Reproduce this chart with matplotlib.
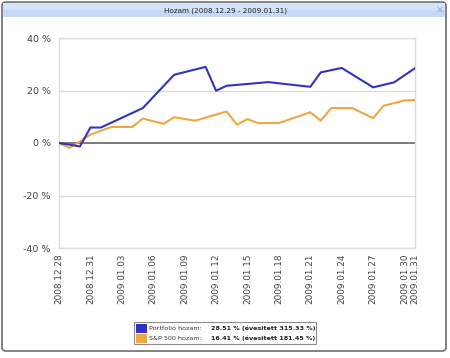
import datetime as dt
import matplotlib
matplotlib.use("Agg")
import matplotlib.pyplot as plt
from matplotlib.patches import Rectangle, FancyBboxPatch

# portfolio return (%) by date
port_dates = ["2008.12.28", "2008.12.30", "2008.12.31", "2009.01.01", "2009.01.05",
              "2009.01.08", "2009.01.11", "2009.01.12", "2009.01.13", "2009.01.17",
              "2009.01.21", "2009.01.22", "2009.01.24", "2009.01.27", "2009.01.29",
              "2009.01.31"]
port_vals = [0, -1.3, 5.9, 5.9, 13.3, 26.0, 29.0, 19.9, 21.8, 23.2,
             21.4, 26.9, 28.6, 21.2, 23.1, 28.51]

# S&P 500 return (%) by date
sp_dates = ["2008.12.28", "2008.12.29", "2008.12.30", "2008.12.31", "2009.01.02",
            "2009.01.04", "2009.01.05", "2009.01.07", "2009.01.08", "2009.01.10",
            "2009.01.13", "2009.01.14", "2009.01.15", "2009.01.16", "2009.01.18",
            "2009.01.21", "2009.01.22", "2009.01.23", "2009.01.25", "2009.01.27",
            "2009.01.28", "2009.01.30", "2009.01.31"]
sp_vals = [0, -1.9, 0.6, 3.2, 6.1, 6.1, 9.3, 7.3, 9.8, 8.5,
           12.0, 7.0, 9.1, 7.6, 7.6, 11.7, 8.5, 13.3, 13.3, 9.5,
           14.2, 16.2, 16.41]

tick_dates = ["2008.12.28", "2008.12.31", "2009.01.03", "2009.01.06", "2009.01.09",
              "2009.01.12", "2009.01.15", "2009.01.18", "2009.01.21", "2009.01.24",
              "2009.01.27", "2009.01.30", "2009.01.31"]
y_ticks = [40, 20, 0, -20, -40]

title = "Hozam (2008.12.29 - 2009.01.31)"
legend_names = ["Portfolió hozam:", "S&P 500 hozam:"]
legend_vals = ["28.51 % (évesitett 315.33 %)", "16.41 % (évesitett 181.45 %)"]

BLUE = "#3232c4"
ORANGE = "#eca843"

t0 = dt.datetime.strptime(tick_dates[0], "%Y.%m.%d")


def days(ds):
    return [(dt.datetime.strptime(d, "%Y.%m.%d") - t0).days for d in ds]


W, H = 450, 358


def fx(x):
    return x / W


def fy(y):
    return 1 - y / H


fig = plt.figure(figsize=(4.5, 3.58), dpi=100)
fig.patch.set_facecolor("white")

# window frame
fig.patches.append(FancyBboxPatch((fx(2), fy(351)), fx(446) - fx(2), fy(2) - fy(351),
                                  boxstyle="round,pad=0,rounding_size=0.01",
                                  transform=fig.transFigure, fc="white",
                                  ec="#6e6e6e", lw=1.2, zorder=-2))
fig.patches.append(Rectangle((fx(3), fy(17)), fx(445) - fx(3), fy(3) - fy(17),
                             transform=fig.transFigure, fc="#c6daf6", ec="none", zorder=-1))
fig.patches.append(Rectangle((fx(3), fy(10)), fx(445) - fx(3), fy(3) - fy(10),
                             transform=fig.transFigure, fc="#d3e3f9", ec="none", zorder=-1))
fig.text(fx(225), fy(10.5), title, ha="center", va="center", fontsize=5.2, color="#222222")
fig.text(fx(440), fy(10.5), "×", ha="center", va="center", fontsize=7, color="#9aa6b6")

ax = fig.add_axes([fx(59), fy(248), fx(415) - fx(59), fy(38) - fy(248)])
ax.set_zorder(3)
ax.set_facecolor("white")

ax.plot(days(sp_dates), sp_vals, color=ORANGE, lw=1.5, zorder=3)
ax.plot(days(port_dates), port_vals, color=BLUE, lw=1.5, zorder=4)

ax.set_xlim(0, days(["2009.01.31"])[0])
ax.set_ylim(-40, 40)
ax.set_yticks(y_ticks)
ax.set_yticklabels([f"{v} %" for v in y_ticks])
ax.set_xticks(days(tick_dates))
ax.set_xticklabels(tick_dates, rotation=90)
ax.tick_params(axis="both", length=0, colors="#444444")
ax.tick_params(axis="y", labelsize=6.8, pad=6)
ax.tick_params(axis="x", labelsize=6.4, pad=4)
for lab in ax.get_xticklabels():
    lab.set_va("top")

for v in y_ticks:
    if v == 0:
        ax.axhline(v, color="#7a7a7a", lw=1.4, zorder=2)
    else:
        ax.axhline(v, color="#dcdcdc", lw=1.0, zorder=1)
for s in ax.spines.values():
    s.set_color("#dcdcdc")
    s.set_linewidth(1.0)

# legend box
fig.patches.append(Rectangle((fx(134), fy(344)), fx(316) - fx(134), fy(322) - fy(344),
                             transform=fig.transFigure, fc="white", ec="#8c8c8c",
                             lw=0.8, zorder=4))
for i, (name, val, col) in enumerate(zip(legend_names, legend_vals, [BLUE, ORANGE])):
    yc = 328 + i * 10
    fig.patches.append(Rectangle((fx(135.5), fy(yc + 4.5)), fx(11), fy(0) - fy(9),
                                 transform=fig.transFigure, fc=col, ec="none", zorder=5))
    fig.text(fx(149), fy(yc), name, ha="left", va="center", fontsize=4.6,
             color="#333333", zorder=5)
    fig.text(fx(211), fy(yc), val, ha="left", va="center", fontsize=4.6,
             fontweight="bold", color="#222222", zorder=5)

fig.savefig("out.png", dpi=100)
